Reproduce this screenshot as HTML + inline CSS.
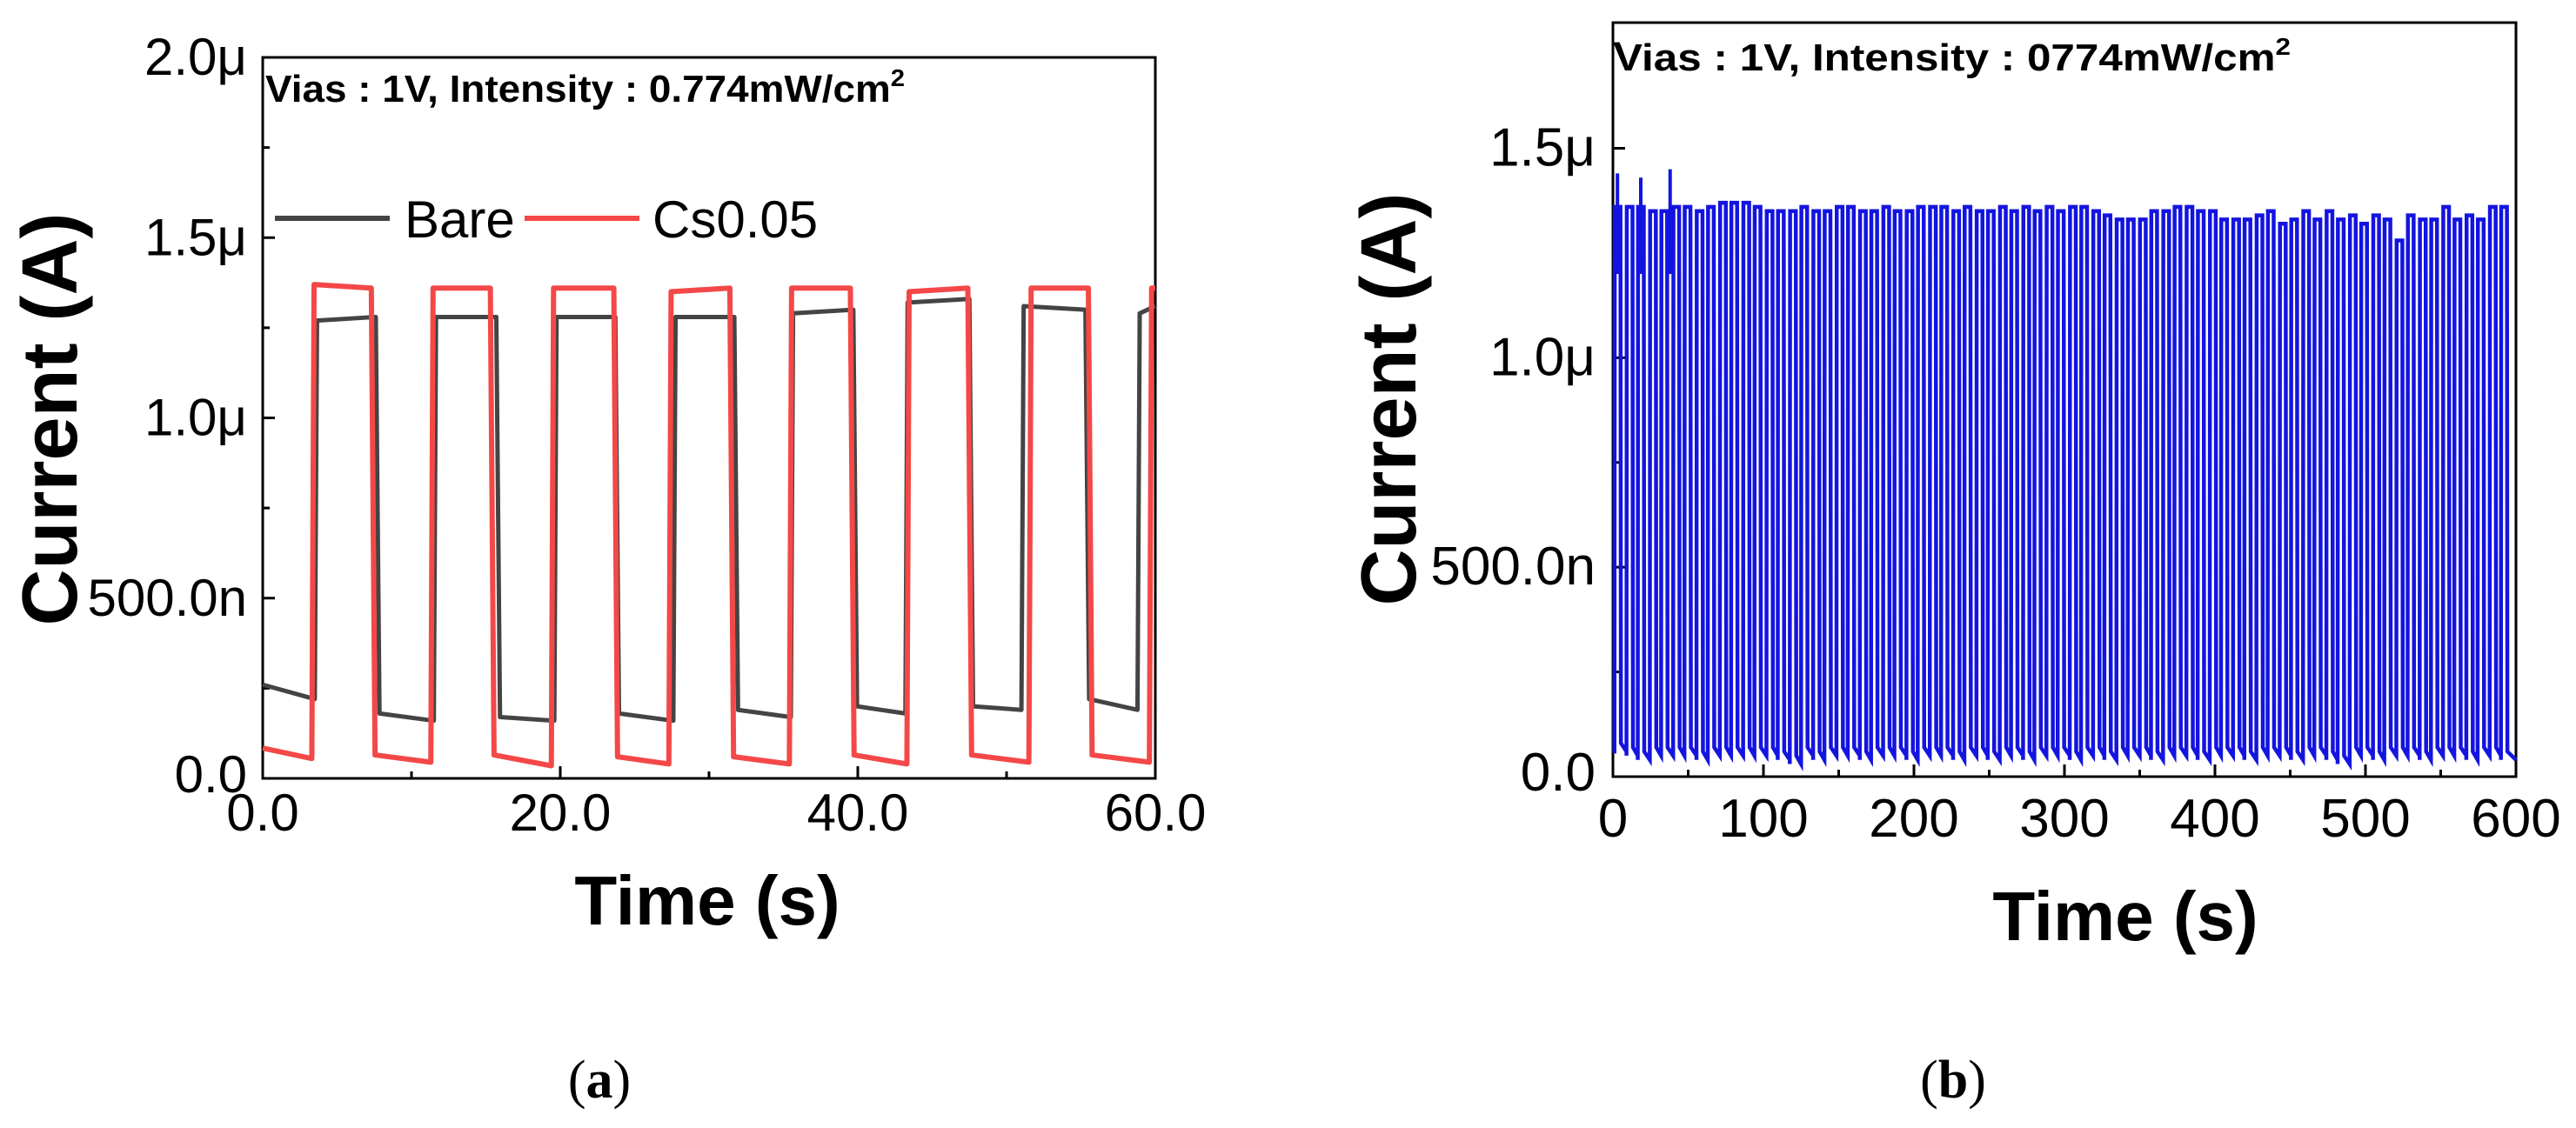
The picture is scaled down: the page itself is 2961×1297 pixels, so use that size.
<!DOCTYPE html>
<html><head><meta charset="utf-8"><style>
html,body{margin:0;padding:0;background:#fff;}
svg{display:block;}
text{font-family:"Liberation Sans",Arial,sans-serif;}
</style></head><body>
<svg id="fig" width="2961" height="1297" viewBox="0 0 2961 1297" xmlns="http://www.w3.org/2000/svg">
<g id="pa"></g>
<g id="pb"></g>
</svg>
<script>
// ---------- Panel (a) data ----------
const aXTicks = [0, 20, 40, 60];
const aXTickLabels = ["0.0", "20.0", "40.0", "60.0"];
const aYTicks = [0, 0.5, 1.0, 1.5, 2.0];
const aYTickLabels = ["0.0", "500.0n", "1.0\u03bc", "1.5\u03bc", "2.0\u03bc"];
// Bare (gray)
const bareRise = [3.5, 11.5, 19.6, 27.6, 35.5, 43.2, 51.0, 58.8];
const bareFall = [7.6, 15.7, 23.7, 31.7, 39.7, 47.5, 55.3];
const bareOnStart = [1.27, 1.28, 1.28, 1.28, 1.29, 1.32, 1.31, 1.29];
const bareOnEnd = [1.28, 1.28, 1.28, 1.28, 1.30, 1.33, 1.30, 1.31];
const bareOffStart = [0.26, 0.18, 0.17, 0.18, 0.19, 0.20, 0.20, 0.22];
const bareOffEnd = [0.22, 0.16, 0.16, 0.16, 0.17, 0.18, 0.19, 0.19];
// Cs0.05 (red)
const csRise = [3.3, 11.3, 19.4, 27.3, 35.4, 43.3, 51.5, 59.6];
const csFall = [7.3, 15.3, 23.6, 31.4, 39.5, 47.4, 55.5];
const csOnStart = [1.37, 1.36, 1.36, 1.35, 1.36, 1.35, 1.36, 1.36];
const csOnEnd = [1.36, 1.36, 1.36, 1.36, 1.36, 1.36, 1.36, 1.36];
const csOffStart = [0.084, 0.065, 0.065, 0.06, 0.06, 0.065, 0.065, 0.065];
const csOffEnd = [0.055, 0.045, 0.035, 0.04, 0.04, 0.04, 0.045, 0.045];

// ---------- Panel (b) data ----------
const bXTicks = [0, 100, 200, 300, 400, 500, 600];
const bXTickLabels = ["0", "100", "200", "300", "400", "500", "600"];
const bYTicks = [0, 0.5, 1.0, 1.5];
const bYTickLabels = ["0.0", "500.0n", "1.0\u03bc", "1.5\u03bc"];
const bOnset = [1, 9, 16.5, 24.5, 32, 40, 47.5, 55.5, 63, 71, 78.5, 86.5, 94, 102, 109.5, 117.5, 125, 133, 140.5, 148.5,
 156, 164, 171.5, 179.5, 187, 195, 202.5, 210.5, 218, 226, 233.5, 241.5, 249, 257, 264.5, 272.5, 280, 288, 295.5, 303.5,
 311, 319, 326.5, 334.5, 342, 350, 357.5, 365.5, 373, 381, 388.5, 396.5, 404, 412, 419.5, 427.5, 435, 443, 450.5, 458.5,
 466, 474, 481.5, 489.5, 497, 505, 512.5, 520.5, 528, 536, 543.5, 551.5, 559, 567, 574.5, 582.5, 590];
const bOnLevel = [1.36, 1.36, 1.36, 1.35, 1.35, 1.36, 1.36, 1.35, 1.36, 1.37, 1.37, 1.37, 1.36, 1.35, 1.35, 1.35, 1.36, 1.35, 1.35, 1.36,
 1.36, 1.35, 1.35, 1.36, 1.35, 1.35, 1.36, 1.36, 1.36, 1.35, 1.36, 1.35, 1.35, 1.36, 1.35, 1.36, 1.35, 1.36, 1.35, 1.36,
 1.36, 1.35, 1.34, 1.33, 1.33, 1.33, 1.35, 1.35, 1.36, 1.36, 1.35, 1.35, 1.33, 1.33, 1.33, 1.34, 1.35, 1.32, 1.33, 1.35,
 1.33, 1.35, 1.33, 1.34, 1.32, 1.34, 1.33, 1.28, 1.34, 1.33, 1.33, 1.36, 1.33, 1.34, 1.33, 1.36, 1.36];
const bOffLevel = [0.06, 0.05, 0.04, 0.05, 0.05, 0.05, 0.05, 0.04, 0.05, 0.05, 0.05, 0.05, 0.05, 0.05, 0.04, 0.03, 0.05, 0.04, 0.05, 0.05,
 0.05, 0.04, 0.05, 0.05, 0.05, 0.04, 0.05, 0.05, 0.05, 0.04, 0.05, 0.05, 0.04, 0.05, 0.05, 0.04, 0.05, 0.05, 0.05, 0.04,
 0.05, 0.05, 0.04, 0.05, 0.05, 0.05, 0.04, 0.05, 0.05, 0.05, 0.04, 0.05, 0.05, 0.05, 0.04, 0.05, 0.05, 0.05, 0.04, 0.05,
 0.05, 0.04, 0.03, 0.05, 0.05, 0.04, 0.05, 0.05, 0.05, 0.04, 0.05, 0.05, 0.05, 0.04, 0.05, 0.05, 0.04];
const bSpikeT = [3, 18.5, 38];
const bSpikeV = [1.44, 1.43, 1.45];

const NS = "http://www.w3.org/2000/svg";
function mk(tag, attrs, parent) {
  const e = document.createElementNS(NS, tag);
  for (const k in attrs) e.setAttribute(k, attrs[k]);
  parent.appendChild(e);
  return e;
}
function scale(d0, d1, r0, r1) { return v => r0 + (v - d0) / (d1 - d0) * (r1 - r0); }

function frame(g, L, T, R, B, xs, ys, xTicks, xLabels, yTicks, yLabels, xMinor, yMinor, opt) {
  const f = mk('rect', {x: L, y: T, width: R - L, height: B - T, fill: 'none', stroke: '#000', 'stroke-width': 3}, g);
  
  
  xTicks.forEach((v, i) => {
    const x = xs(v);
    const t = mk('line', {x1: x, x2: x, y1: B, y2: B - 14, stroke: '#000', 'stroke-width': 3}, g);
    
    
    const lb = mk('text', {x: x, y: opt.xLabelY, 'font-size': opt.tickFont, 'text-anchor': 'middle', fill: '#000'}, g);
    lb.textContent = xLabels[i];
    
    
  });
  xMinor.forEach(v => {
    const x = xs(v);
    const t = mk('line', {x1: x, x2: x, y1: B, y2: B - 8, stroke: '#000', 'stroke-width': 3}, g);
    
    
  });
  yTicks.forEach((v, i) => {
    const y = ys(v);
    const t = mk('line', {x1: L, x2: L + 14, y1: y, y2: y, stroke: '#000', 'stroke-width': 3}, g);
    
    
    const lb = mk('text', {x: opt.yLabelX, y: y + (v === 0 ? 16 : 20), 'font-size': opt.tickFont, 'text-anchor': 'end', fill: '#000'}, g);
    lb.textContent = yLabels[i];
    
    
  });
  yMinor.forEach(v => {
    const y = ys(v);
    const t = mk('line', {x1: L, x2: L + 8, y1: y, y2: y, stroke: '#000', 'stroke-width': 3}, g);
    
    
  });
}

function squarePath(xs, ys, x0, x1, rise, fall, onS, onE, offS, offE) {
  let d = '';
  let t = x0;
  for (let i = 0; i < rise.length; i++) {
    d += (i === 0 ? 'M' : 'L') + xs(t) + ',' + ys(offS[i]) + 'L' + xs(rise[i]) + ',' + ys(offE[i]);
    const end = i < fall.length ? fall[i] : x1;
    d += 'L' + xs(rise[i] + 0.15) + ',' + ys(onS[i]) + 'L' + xs(end) + ',' + ys(onE[i]);
    if (i < fall.length) { t = fall[i] + 0.25; }
  }
  return d;
}

// ---------- Panel (a) ----------
(function () {
  const g = document.getElementById('pa');
  const L = 302, R = 1328, T = 66, B = 895;
  const xs = scale(0, 60, L, R), ys = scale(0, 2.0, B, T);
  frame(g, L, T, R, B, xs, ys, aXTicks, aXTickLabels, aYTicks, aYTickLabels, [10, 30, 50], [0.25, 0.75, 1.25, 1.75],
    {xLabelY: 955, yLabelX: 284, tickFont: 60});
  const gray = mk('path', {d: squarePath(xs, ys, 0, 60, bareRise, bareFall, bareOnStart, bareOnEnd, bareOffStart, bareOffEnd),
    fill: 'none', stroke: '#444', 'stroke-width': 5, 'stroke-linejoin': 'round'}, g);
  
  
  const red = mk('path', {d: squarePath(xs, ys, 0, 60, csRise, csFall, csOnStart, csOnEnd, csOffStart, csOffEnd),
    fill: 'none', stroke: '#f44848', 'stroke-width': 6, 'stroke-linejoin': 'round'}, g);
  
  
  const an = mk('text', {x: 305, y: 117, 'font-size': 44, 'font-weight': 'bold', textLength: 735, lengthAdjust: 'spacingAndGlyphs'}, g);
  an.innerHTML = 'Vias : 1V, Intensity : 0.774mW/cm<tspan dy="-18" font-size="28">2</tspan>';
  
  
  const l1 = mk('line', {x1: 316, x2: 448, y1: 251, y2: 251, stroke: '#444', 'stroke-width': 6}, g);
  
  
  const t1 = mk('text', {x: 465, y: 273, 'font-size': 60}, g); t1.textContent = 'Bare';
  
  
  const l2 = mk('line', {x1: 603, x2: 735, y1: 251, y2: 251, stroke: '#f44848', 'stroke-width': 6}, g);
  
  
  const t2 = mk('text', {x: 750, y: 273, 'font-size': 60}, g); t2.textContent = 'Cs0.05';
  
  
  const yt = mk('text', {x: 0, y: 0, 'font-size': 90, 'font-weight': 'bold', 'text-anchor': 'middle', transform: 'translate(88,482) rotate(-90)'}, g);
  yt.textContent = 'Current (A)';
  
  
  const xt = mk('text', {x: 813, y: 1063, 'font-size': 80, 'font-weight': 'bold', 'text-anchor': 'middle'}, g);
  xt.textContent = 'Time (s)';
  
  
  const cap = mk('text', {x: 689, y: 1262, 'font-size': 62, 'text-anchor': 'middle', style: 'font-family:"Liberation Serif",serif'}, g);
  cap.innerHTML = '(<tspan font-weight="bold">a</tspan>)';
  
  
})();

// ---------- Panel (b) ----------
(function () {
  const g = document.getElementById('pb');
  const L = 1854, R = 2892, T = 26, B = 893;
  const xs = scale(0, 600, L, R), ys = scale(0, 1.8, B, T);
  frame(g, L, T, R, B, xs, ys, bXTicks, bXTickLabels, bYTicks, bYTickLabels, [50, 150, 250, 350, 450, 550], [0.25, 0.75, 1.25, 1.75],
    {xLabelY: 962, yLabelX: 1834, tickFont: 62});
  let d = '';
  for (let i = 0; i < bOnset.length; i++) {
    const t0 = bOnset[i], t1 = Math.min(t0 + 4, 600);
    const nxt = i + 1 < bOnset.length ? bOnset[i + 1] : 600;
    d += (i === 0 ? 'M' + xs(0) + ',' + ys(bOffLevel[0]) : '') +
      'L' + xs(t0) + ',' + ys(bOffLevel[i]) + 'L' + xs(t0 + 0.2) + ',' + ys(bOnLevel[i]) +
      'L' + xs(t1) + ',' + ys(bOnLevel[i]) + 'L' + xs(t1 + 0.3) + ',' + ys(bOffLevel[i] + 0.02) +
      'L' + xs(Math.min(nxt, 600)) + ',' + ys(bOffLevel[i]);
  }
  const s = mk('path', {d: d, fill: 'none', stroke: '#1414e0', 'stroke-width': 4.5}, g);
  
  
  bSpikeT.forEach((t, i) => {
    const sp = mk('line', {x1: xs(t), x2: xs(t), y1: ys(1.2), y2: ys(bSpikeV[i]), stroke: '#1414e0', 'stroke-width': 4}, g);
    
    
  });
  const an = mk('text', {x: 1855, y: 81, 'font-size': 44, 'font-weight': 'bold', textLength: 778, lengthAdjust: 'spacingAndGlyphs'}, g);
  an.innerHTML = 'Vias : 1V, Intensity : 0774mW/cm<tspan dy="-18" font-size="28">2</tspan>';
  
  
  const yt = mk('text', {x: 0, y: 0, 'font-size': 90, 'font-weight': 'bold', 'text-anchor': 'middle', transform: 'translate(1627,459) rotate(-90)'}, g);
  yt.textContent = 'Current (A)';
  
  
  const xt = mk('text', {x: 2443, y: 1081, 'font-size': 80, 'font-weight': 'bold', 'text-anchor': 'middle'}, g);
  xt.textContent = 'Time (s)';
  
  
  const cap = mk('text', {x: 2245, y: 1262, 'font-size': 62, 'text-anchor': 'middle', style: 'font-family:"Liberation Serif",serif'}, g);
  cap.innerHTML = '(<tspan font-weight="bold">b</tspan>)';
  
  
})();
</script>
</body></html>
